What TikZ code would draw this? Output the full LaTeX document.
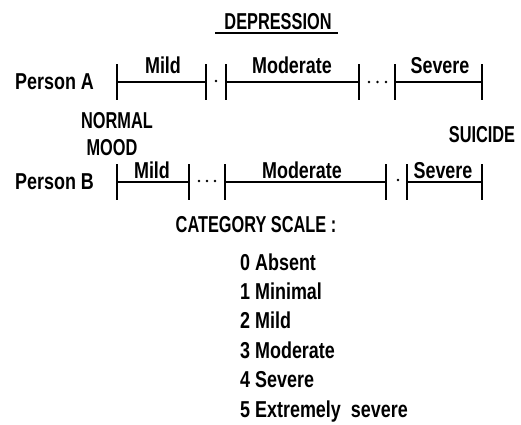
\documentclass[tikz,border=0pt]{standalone}
\usepackage{fontspec}
\setmainfont[FakeStretch=0.78]{Liberation Sans}
\newfontfamily\capsfont[FakeStretch=0.71]{Liberation Sans}
\usetikzlibrary{positioning}

\tikzset{
  lbl/.style={font=\bfseries\fontsize{23}{27}\selectfont, inner sep=0pt, anchor=base},
  caps/.style={lbl, font=\capsfont\bfseries\fontsize{23}{27}\selectfont},
  bar/.style={line width=1.5pt},
  tick/.style={line width=2pt},
  dot/.style={fill=black},
}

\begin{document}
\begin{tikzpicture}[x=1pt,y=-1pt]
  \useasboundingbox (0,0) rectangle (521,424);

  % title
  \node[caps] (title) at (278,29) {DEPRESSION};
  \draw[bar] ([xshift=-9pt,yshift=-4pt]title.base west) -- ([xshift=6pt,yshift=-4pt]title.base east);

  % person A
  \node[lbl, anchor=base west] (persA) at (15,89) {Person A};
  \coordinate (a0) at (117,82); \coordinate (a1) at (206,82);
  \coordinate (a2) at (226,82); \coordinate (a3) at (359,82);
  \coordinate (a4) at (395,82); \coordinate (a5) at (482,82);
  \draw[bar] (a0) -- (a1); \draw[bar] (a2) -- (a3); \draw[bar] (a4) -- (a5);
  \foreach \c in {a0,a1,a2,a3,a4,a5}
    \draw[tick] ([yshift=18pt]\c) -- ([yshift=-18pt]\c);
  \node[lbl] (amild) at (163,73) {Mild};
  \node[lbl] (amod) at (292,73) {Moderate};
  \node[lbl] (asev) at (440,73) {Severe};
  \fill[dot] (216,81) circle (1.4);
  \foreach \x in {369,377.5,386} \fill[dot] (\x,82) circle (1.4);

  % ends of the scale
  \node[caps] (normal) at (117,128) {NORMAL};
  \node[caps] (mood) at (112,155) {MOOD};
  \node[caps] (suicide) at (482,142) {SUICIDE};

  % person B
  \node[lbl, anchor=base west] (persB) at (15,189) {Person B};
  \coordinate (b0) at (117,182); \coordinate (b1) at (189,182);
  \coordinate (b2) at (225,182); \coordinate (b3) at (386,182);
  \coordinate (b4) at (407,182); \coordinate (b5) at (482,182);
  \draw[bar] (b0) -- (b1); \draw[bar] (b2) -- (b3); \draw[bar] (b4) -- (b5);
  \foreach \c in {b0,b1,b2,b3,b4,b5}
    \draw[tick] ([yshift=18pt]\c) -- ([yshift=-18pt]\c);
  \node[lbl] (bmild) at (152,178) {Mild};
  \node[lbl] (bmod) at (302,178) {Moderate};
  \node[lbl] (bsev) at (443,178) {Severe};
  \foreach \x in {199,207,215} \fill[dot] (\x,181) circle (1.4);
  \fill[dot] (398,180) circle (1.4);

  % category scale
  \node[caps] (cat) at (256,232) {CATEGORY SCALE :};
  \foreach \n/\t [count=\i from 0] in {0/Absent,1/Minimal,2/Mild,3/Moderate,4/Severe,5/Extremely\ \ severe}
    \node[lbl, anchor=base west] (cat\n) at (240,270+29.4*\i) {\n\ \t};
\end{tikzpicture}
\end{document}
